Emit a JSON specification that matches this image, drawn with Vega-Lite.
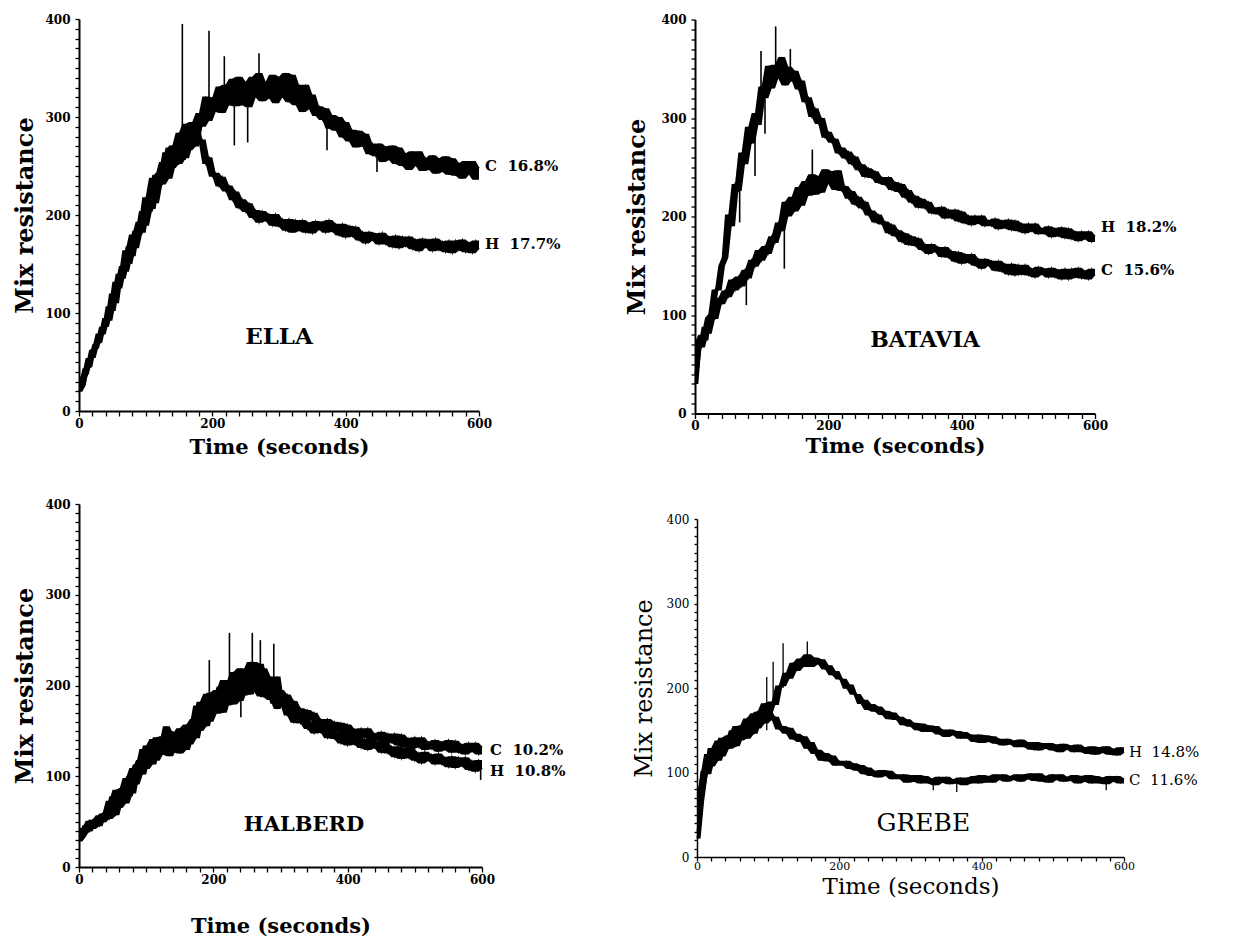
{
"$schema":"https://vega.github.io/schema/vega-lite/v6.json",
"background":"white",
"padding":{"left":13,"top":13,"right":2,"bottom":2},
"config":{"view":{"stroke":null},"font":"DejaVu Serif","axis":{"grid":false,"domainColor":"black","tickColor":"black","labelColor":"black","titleColor":"black","domainWidth":2,"tickWidth":1.3,"labelFont":"DejaVu Serif","titleFont":"DejaVu Serif","labelFlush":false}},
"datasets":{
"ella":[
{"s":"C","t":0,"v":20},{"s":"C","t":5,"v":26},{"s":"C","t":10,"v":43},{"s":"C","t":15,"v":45},{"s":"C","t":20,"v":62},{"s":"C","t":25,"v":64},{"s":"C","t":30,"v":79},{"s":"C","t":35,"v":78},{"s":"C","t":40,"v":95},{"s":"C","t":45,"v":92},
{"s":"C","t":50,"v":120},{"s":"C","t":55,"v":110},{"s":"C","t":60,"v":140},{"s":"C","t":65,"v":135},{"s":"C","t":70,"v":164},{"s":"C","t":75,"v":150},{"s":"C","t":80,"v":180},{"s":"C","t":85,"v":166},{"s":"C","t":90,"v":193},{"s":"C","t":95,"v":182},
{"s":"C","t":100,"v":218},{"s":"C","t":105,"v":203},{"s":"C","t":110,"v":238},{"s":"C","t":115,"v":212},{"s":"C","t":120,"v":243},{"s":"C","t":125,"v":231},{"s":"C","t":130,"v":264},{"s":"C","t":135,"v":237},{"s":"C","t":140,"v":271},{"s":"C","t":145,"v":251},
{"s":"C","t":150,"v":284},{"s":"C","t":155,"v":256},{"s":"C","t":160,"v":293},{"s":"C","t":165,"v":266},{"s":"C","t":170,"v":295},{"s":"C","t":175,"v":270},{"s":"C","t":180,"v":304},{"s":"C","t":185,"v":290},{"s":"C","t":190,"v":321},{"s":"C","t":195,"v":296},
{"s":"C","t":200,"v":320},{"s":"C","t":205,"v":305},{"s":"C","t":210,"v":331},{"s":"C","t":215,"v":304},{"s":"C","t":220,"v":333},{"s":"C","t":225,"v":312},{"s":"C","t":230,"v":339},{"s":"C","t":235,"v":311},{"s":"C","t":240,"v":341},{"s":"C","t":245,"v":312},
{"s":"C","t":250,"v":336},{"s":"C","t":255,"v":310},{"s":"C","t":260,"v":341},{"s":"C","t":265,"v":320},{"s":"C","t":270,"v":345},{"s":"C","t":275,"v":316},{"s":"C","t":280,"v":336},{"s":"C","t":285,"v":319},{"s":"C","t":290,"v":343},{"s":"C","t":295,"v":314},
{"s":"C","t":300,"v":341},{"s":"C","t":305,"v":320},{"s":"C","t":310,"v":345},{"s":"C","t":315,"v":315},{"s":"C","t":320,"v":343},{"s":"C","t":325,"v":312},{"s":"C","t":330,"v":333},{"s":"C","t":335,"v":305},{"s":"C","t":340,"v":333},{"s":"C","t":345,"v":308},
{"s":"C","t":350,"v":323},{"s":"C","t":355,"v":301},{"s":"C","t":360,"v":311},{"s":"C","t":365,"v":297},{"s":"C","t":370,"v":309},{"s":"C","t":375,"v":288},{"s":"C","t":380,"v":302},{"s":"C","t":385,"v":286},{"s":"C","t":390,"v":300},{"s":"C","t":395,"v":279},
{"s":"C","t":400,"v":295},{"s":"C","t":405,"v":275},{"s":"C","t":410,"v":287},{"s":"C","t":415,"v":269},{"s":"C","t":420,"v":286},{"s":"C","t":425,"v":270},{"s":"C","t":430,"v":283},{"s":"C","t":435,"v":262},{"s":"C","t":440,"v":273},{"s":"C","t":445,"v":260},
{"s":"C","t":450,"v":273},{"s":"C","t":455,"v":254},{"s":"C","t":460,"v":270},{"s":"C","t":465,"v":256},{"s":"C","t":470,"v":271},{"s":"C","t":475,"v":252},{"s":"C","t":480,"v":269},{"s":"C","t":485,"v":250},{"s":"C","t":490,"v":263},{"s":"C","t":495,"v":246},
{"s":"C","t":500,"v":265},{"s":"C","t":505,"v":250},{"s":"C","t":510,"v":265},{"s":"C","t":515,"v":245},{"s":"C","t":520,"v":258},{"s":"C","t":525,"v":246},{"s":"C","t":530,"v":261},{"s":"C","t":535,"v":242},{"s":"C","t":540,"v":258},{"s":"C","t":545,"v":244},
{"s":"C","t":550,"v":260},{"s":"C","t":555,"v":241},{"s":"C","t":560,"v":258},{"s":"C","t":565,"v":240},{"s":"C","t":570,"v":253},{"s":"C","t":575,"v":237},{"s":"C","t":580,"v":255},{"s":"C","t":585,"v":241},{"s":"C","t":590,"v":255},{"s":"C","t":595,"v":236},
{"s":"C","t":600,"v":249},
{"s":"H","t":0,"v":20},{"s":"H","t":5,"v":33},{"s":"H","t":10,"v":38},{"s":"H","t":15,"v":54},{"s":"H","t":20,"v":54},{"s":"H","t":25,"v":68},{"s":"H","t":30,"v":70},{"s":"H","t":35,"v":86},{"s":"H","t":40,"v":86},{"s":"H","t":45,"v":107},
{"s":"H","t":50,"v":102},{"s":"H","t":55,"v":132},{"s":"H","t":60,"v":125},{"s":"H","t":65,"v":148},{"s":"H","t":70,"v":142},{"s":"H","t":75,"v":168},{"s":"H","t":80,"v":158},{"s":"H","t":85,"v":184},{"s":"H","t":90,"v":180},{"s":"H","t":95,"v":204},
{"s":"H","t":100,"v":189},{"s":"H","t":105,"v":219},{"s":"H","t":110,"v":206},{"s":"H","t":115,"v":241},{"s":"H","t":120,"v":230},{"s":"H","t":125,"v":254},{"s":"H","t":130,"v":239},{"s":"H","t":135,"v":269},{"s":"H","t":140,"v":248},{"s":"H","t":145,"v":270},
{"s":"H","t":150,"v":252},{"s":"H","t":155,"v":281},{"s":"H","t":160,"v":258},{"s":"H","t":165,"v":286},{"s":"H","t":170,"v":270},{"s":"H","t":175,"v":294},{"s":"H","t":180,"v":273},{"s":"H","t":185,"v":277},{"s":"H","t":190,"v":252},{"s":"H","t":195,"v":259},
{"s":"H","t":200,"v":239},{"s":"H","t":205,"v":243},{"s":"H","t":210,"v":229},{"s":"H","t":215,"v":239},{"s":"H","t":220,"v":224},{"s":"H","t":225,"v":230},{"s":"H","t":230,"v":215},{"s":"H","t":235,"v":224},{"s":"H","t":240,"v":207},{"s":"H","t":245,"v":216},
{"s":"H","t":250,"v":203},{"s":"H","t":255,"v":212},{"s":"H","t":260,"v":197},{"s":"H","t":265,"v":205},{"s":"H","t":270,"v":192},{"s":"H","t":275,"v":204},{"s":"H","t":280,"v":194},{"s":"H","t":285,"v":201},{"s":"H","t":290,"v":189},{"s":"H","t":295,"v":201},
{"s":"H","t":300,"v":188},{"s":"H","t":305,"v":196},{"s":"H","t":310,"v":184},{"s":"H","t":315,"v":196},{"s":"H","t":320,"v":182},{"s":"H","t":325,"v":195},{"s":"H","t":330,"v":184},{"s":"H","t":335,"v":195},{"s":"H","t":340,"v":182},{"s":"H","t":345,"v":192},
{"s":"H","t":350,"v":181},{"s":"H","t":355,"v":194},{"s":"H","t":360,"v":185},{"s":"H","t":365,"v":193},{"s":"H","t":370,"v":182},{"s":"H","t":375,"v":195},{"s":"H","t":380,"v":183},{"s":"H","t":385,"v":191},{"s":"H","t":390,"v":179},{"s":"H","t":395,"v":191},
{"s":"H","t":400,"v":177},{"s":"H","t":405,"v":189},{"s":"H","t":410,"v":178},{"s":"H","t":415,"v":188},{"s":"H","t":420,"v":174},{"s":"H","t":425,"v":183},{"s":"H","t":430,"v":171},{"s":"H","t":435,"v":183},{"s":"H","t":440,"v":174},{"s":"H","t":445,"v":181},
{"s":"H","t":450,"v":170},{"s":"H","t":455,"v":182},{"s":"H","t":460,"v":170},{"s":"H","t":465,"v":178},{"s":"H","t":470,"v":167},{"s":"H","t":475,"v":179},{"s":"H","t":480,"v":166},{"s":"H","t":485,"v":178},{"s":"H","t":490,"v":168},{"s":"H","t":495,"v":178},
{"s":"H","t":500,"v":165},{"s":"H","t":505,"v":175},{"s":"H","t":510,"v":163},{"s":"H","t":515,"v":176},{"s":"H","t":520,"v":167},{"s":"H","t":525,"v":175},{"s":"H","t":530,"v":163},{"s":"H","t":535,"v":176},{"s":"H","t":540,"v":164},{"s":"H","t":545,"v":173},
{"s":"H","t":550,"v":162},{"s":"H","t":555,"v":174},{"s":"H","t":560,"v":161},{"s":"H","t":565,"v":174},{"s":"H","t":570,"v":164},{"s":"H","t":575,"v":175},{"s":"H","t":580,"v":162},{"s":"H","t":585,"v":172},{"s":"H","t":590,"v":161},{"s":"H","t":595,"v":174},
{"s":"H","t":600,"v":165}
],
"batavia":[
{"s":"H","t":0,"v":30},{"s":"H","t":5,"v":72},{"s":"H","t":10,"v":80},{"s":"H","t":15,"v":74},{"s":"H","t":20,"v":97},{"s":"H","t":25,"v":101},{"s":"H","t":30,"v":126},{"s":"H","t":35,"v":125},{"s":"H","t":40,"v":150},{"s":"H","t":45,"v":158},
{"s":"H","t":50,"v":202},{"s":"H","t":55,"v":190},{"s":"H","t":60,"v":233},{"s":"H","t":65,"v":226},{"s":"H","t":70,"v":265},{"s":"H","t":75,"v":253},{"s":"H","t":80,"v":291},{"s":"H","t":85,"v":274},{"s":"H","t":90,"v":305},{"s":"H","t":95,"v":293},
{"s":"H","t":100,"v":332},{"s":"H","t":105,"v":320},{"s":"H","t":110,"v":353},{"s":"H","t":115,"v":330},{"s":"H","t":120,"v":354},{"s":"H","t":125,"v":340},{"s":"H","t":130,"v":362},{"s":"H","t":135,"v":333},{"s":"H","t":140,"v":352},{"s":"H","t":145,"v":338},
{"s":"H","t":150,"v":348},{"s":"H","t":155,"v":329},{"s":"H","t":160,"v":338},{"s":"H","t":165,"v":316},{"s":"H","t":170,"v":321},{"s":"H","t":175,"v":301},{"s":"H","t":180,"v":310},{"s":"H","t":185,"v":294},{"s":"H","t":190,"v":300},{"s":"H","t":195,"v":280},
{"s":"H","t":200,"v":286},{"s":"H","t":205,"v":275},{"s":"H","t":210,"v":279},{"s":"H","t":215,"v":264},{"s":"H","t":220,"v":270},{"s":"H","t":225,"v":259},{"s":"H","t":230,"v":266},{"s":"H","t":235,"v":253},{"s":"H","t":240,"v":261},{"s":"H","t":245,"v":247},
{"s":"H","t":250,"v":253},{"s":"H","t":255,"v":240},{"s":"H","t":260,"v":249},{"s":"H","t":265,"v":239},{"s":"H","t":270,"v":246},{"s":"H","t":275,"v":234},{"s":"H","t":280,"v":240},{"s":"H","t":285,"v":232},{"s":"H","t":290,"v":240},{"s":"H","t":295,"v":227},
{"s":"H","t":300,"v":235},{"s":"H","t":305,"v":225},{"s":"H","t":310,"v":233},{"s":"H","t":315,"v":219},{"s":"H","t":320,"v":227},{"s":"H","t":325,"v":214},{"s":"H","t":330,"v":221},{"s":"H","t":335,"v":209},{"s":"H","t":340,"v":218},{"s":"H","t":345,"v":208},
{"s":"H","t":350,"v":215},{"s":"H","t":355,"v":203},{"s":"H","t":360,"v":209},{"s":"H","t":365,"v":202},{"s":"H","t":370,"v":210},{"s":"H","t":375,"v":198},{"s":"H","t":380,"v":207},{"s":"H","t":385,"v":198},{"s":"H","t":390,"v":207},{"s":"H","t":395,"v":195},
{"s":"H","t":400,"v":205},{"s":"H","t":405,"v":193},{"s":"H","t":410,"v":201},{"s":"H","t":415,"v":191},{"s":"H","t":420,"v":201},{"s":"H","t":425,"v":193},{"s":"H","t":430,"v":201},{"s":"H","t":435,"v":190},{"s":"H","t":440,"v":196},{"s":"H","t":445,"v":190},
{"s":"H","t":450,"v":198},{"s":"H","t":455,"v":187},{"s":"H","t":460,"v":196},{"s":"H","t":465,"v":188},{"s":"H","t":470,"v":197},{"s":"H","t":475,"v":186},{"s":"H","t":480,"v":196},{"s":"H","t":485,"v":185},{"s":"H","t":490,"v":193},{"s":"H","t":495,"v":183},
{"s":"H","t":500,"v":193},{"s":"H","t":505,"v":185},{"s":"H","t":510,"v":193},{"s":"H","t":515,"v":182},{"s":"H","t":520,"v":188},{"s":"H","t":525,"v":182},{"s":"H","t":530,"v":190},{"s":"H","t":535,"v":179},{"s":"H","t":540,"v":188},{"s":"H","t":545,"v":180},
{"s":"H","t":550,"v":189},{"s":"H","t":555,"v":178},{"s":"H","t":560,"v":188},{"s":"H","t":565,"v":177},{"s":"H","t":570,"v":185},{"s":"H","t":575,"v":175},{"s":"H","t":580,"v":185},{"s":"H","t":585,"v":177},{"s":"H","t":590,"v":185},{"s":"H","t":595,"v":174},
{"s":"H","t":600,"v":181},
{"s":"C","t":0,"v":40},{"s":"C","t":5,"v":68},{"s":"C","t":10,"v":67},{"s":"C","t":15,"v":88},{"s":"C","t":20,"v":81},{"s":"C","t":25,"v":100},{"s":"C","t":30,"v":96},{"s":"C","t":35,"v":117},{"s":"C","t":40,"v":111},{"s":"C","t":45,"v":125},
{"s":"C","t":50,"v":118},{"s":"C","t":55,"v":136},{"s":"C","t":60,"v":125},{"s":"C","t":65,"v":139},{"s":"C","t":70,"v":129},{"s":"C","t":75,"v":146},{"s":"C","t":80,"v":137},{"s":"C","t":85,"v":156},{"s":"C","t":90,"v":149},{"s":"C","t":95,"v":166},
{"s":"C","t":100,"v":155},{"s":"C","t":105,"v":170},{"s":"C","t":110,"v":162},{"s":"C","t":115,"v":180},{"s":"C","t":120,"v":173},{"s":"C","t":125,"v":194},{"s":"C","t":130,"v":185},{"s":"C","t":135,"v":215},{"s":"C","t":140,"v":200},{"s":"C","t":145,"v":220},
{"s":"C","t":150,"v":205},{"s":"C","t":155,"v":230},{"s":"C","t":160,"v":211},{"s":"C","t":165,"v":236},{"s":"C","t":170,"v":221},{"s":"C","t":175,"v":243},{"s":"C","t":180,"v":222},{"s":"C","t":185,"v":241},{"s":"C","t":190,"v":224},{"s":"C","t":195,"v":248},
{"s":"C","t":200,"v":233},{"s":"C","t":205,"v":246},{"s":"C","t":210,"v":227},{"s":"C","t":215,"v":247},{"s":"C","t":220,"v":226},{"s":"C","t":225,"v":231},{"s":"C","t":230,"v":218},{"s":"C","t":235,"v":226},{"s":"C","t":240,"v":212},{"s":"C","t":245,"v":220},
{"s":"C","t":250,"v":208},{"s":"C","t":255,"v":215},{"s":"C","t":260,"v":201},{"s":"C","t":265,"v":206},{"s":"C","t":270,"v":194},{"s":"C","t":275,"v":202},{"s":"C","t":280,"v":192},{"s":"C","t":285,"v":195},{"s":"C","t":290,"v":183},{"s":"C","t":295,"v":192},
{"s":"C","t":300,"v":180},{"s":"C","t":305,"v":186},{"s":"C","t":310,"v":174},{"s":"C","t":315,"v":183},{"s":"C","t":320,"v":171},{"s":"C","t":325,"v":180},{"s":"C","t":330,"v":170},{"s":"C","t":335,"v":178},{"s":"C","t":340,"v":166},{"s":"C","t":345,"v":172},
{"s":"C","t":350,"v":162},{"s":"C","t":355,"v":172},{"s":"C","t":360,"v":164},{"s":"C","t":365,"v":169},{"s":"C","t":370,"v":159},{"s":"C","t":375,"v":169},{"s":"C","t":380,"v":158},{"s":"C","t":385,"v":165},{"s":"C","t":390,"v":154},{"s":"C","t":395,"v":164},
{"s":"C","t":400,"v":152},{"s":"C","t":405,"v":162},{"s":"C","t":410,"v":153},{"s":"C","t":415,"v":162},{"s":"C","t":420,"v":150},{"s":"C","t":425,"v":157},{"s":"C","t":430,"v":147},{"s":"C","t":435,"v":157},{"s":"C","t":440,"v":150},{"s":"C","t":445,"v":155},
{"s":"C","t":450,"v":145},{"s":"C","t":455,"v":155},{"s":"C","t":460,"v":144},{"s":"C","t":465,"v":152},{"s":"C","t":470,"v":141},{"s":"C","t":475,"v":152},{"s":"C","t":480,"v":140},{"s":"C","t":485,"v":151},{"s":"C","t":490,"v":141},{"s":"C","t":495,"v":151},
{"s":"C","t":500,"v":140},{"s":"C","t":505,"v":147},{"s":"C","t":510,"v":138},{"s":"C","t":515,"v":149},{"s":"C","t":520,"v":141},{"s":"C","t":525,"v":147},{"s":"C","t":530,"v":138},{"s":"C","t":535,"v":148},{"s":"C","t":540,"v":138},{"s":"C","t":545,"v":146},
{"s":"C","t":550,"v":136},{"s":"C","t":555,"v":147},{"s":"C","t":560,"v":136},{"s":"C","t":565,"v":147},{"s":"C","t":570,"v":138},{"s":"C","t":575,"v":148},{"s":"C","t":580,"v":137},{"s":"C","t":585,"v":145},{"s":"C","t":590,"v":136},{"s":"C","t":595,"v":147},
{"s":"C","t":600,"v":140}
],
"halberd":[
{"s":"C","t":0,"v":28},{"s":"C","t":5,"v":33},{"s":"C","t":10,"v":46},{"s":"C","t":15,"v":39},{"s":"C","t":20,"v":52},{"s":"C","t":25,"v":46},{"s":"C","t":30,"v":57},{"s":"C","t":35,"v":49},{"s":"C","t":40,"v":60},{"s":"C","t":45,"v":53},
{"s":"C","t":50,"v":78},{"s":"C","t":55,"v":57},{"s":"C","t":60,"v":85},{"s":"C","t":65,"v":71},{"s":"C","t":70,"v":98},{"s":"C","t":75,"v":78},{"s":"C","t":80,"v":109},{"s":"C","t":85,"v":91},{"s":"C","t":90,"v":118},{"s":"C","t":95,"v":102},
{"s":"C","t":100,"v":134},{"s":"C","t":105,"v":117},{"s":"C","t":110,"v":141},{"s":"C","t":115,"v":117},{"s":"C","t":120,"v":138},{"s":"C","t":125,"v":124},{"s":"C","t":130,"v":155},{"s":"C","t":135,"v":122},{"s":"C","t":140,"v":147},{"s":"C","t":145,"v":130},
{"s":"C","t":150,"v":153},{"s":"C","t":155,"v":130},{"s":"C","t":160,"v":157},{"s":"C","t":165,"v":135},{"s":"C","t":170,"v":163},{"s":"C","t":175,"v":142},{"s":"C","t":180,"v":182},{"s":"C","t":185,"v":161},{"s":"C","t":190,"v":191},{"s":"C","t":195,"v":160},
{"s":"C","t":200,"v":186},{"s":"C","t":205,"v":169},{"s":"C","t":210,"v":199},{"s":"C","t":215,"v":170},{"s":"C","t":220,"v":204},{"s":"C","t":225,"v":183},{"s":"C","t":230,"v":215},{"s":"C","t":235,"v":185},{"s":"C","t":240,"v":219},{"s":"C","t":245,"v":189},
{"s":"C","t":250,"v":216},{"s":"C","t":255,"v":190},{"s":"C","t":260,"v":226},{"s":"C","t":265,"v":200},{"s":"C","t":270,"v":224},{"s":"C","t":275,"v":187},{"s":"C","t":280,"v":207},{"s":"C","t":285,"v":184},{"s":"C","t":290,"v":208},{"s":"C","t":295,"v":174},
{"s":"C","t":300,"v":195},{"s":"C","t":305,"v":182},{"s":"C","t":310,"v":190},{"s":"C","t":315,"v":173},{"s":"C","t":320,"v":183},{"s":"C","t":325,"v":168},{"s":"C","t":330,"v":175},{"s":"C","t":335,"v":162},{"s":"C","t":340,"v":173},{"s":"C","t":345,"v":162},
{"s":"C","t":350,"v":170},{"s":"C","t":355,"v":155},{"s":"C","t":360,"v":163},{"s":"C","t":365,"v":153},{"s":"C","t":370,"v":163},{"s":"C","t":375,"v":149},{"s":"C","t":380,"v":160},{"s":"C","t":385,"v":149},{"s":"C","t":390,"v":159},{"s":"C","t":395,"v":145},
{"s":"C","t":400,"v":157},{"s":"C","t":405,"v":143},{"s":"C","t":410,"v":152},{"s":"C","t":415,"v":141},{"s":"C","t":420,"v":153},{"s":"C","t":425,"v":143},{"s":"C","t":430,"v":153},{"s":"C","t":435,"v":139},{"s":"C","t":440,"v":147},{"s":"C","t":445,"v":139},
{"s":"C","t":450,"v":149},{"s":"C","t":455,"v":135},{"s":"C","t":460,"v":147},{"s":"C","t":465,"v":137},{"s":"C","t":470,"v":147},{"s":"C","t":475,"v":134},{"s":"C","t":480,"v":146},{"s":"C","t":485,"v":132},{"s":"C","t":490,"v":142},{"s":"C","t":495,"v":130},
{"s":"C","t":500,"v":143},{"s":"C","t":505,"v":132},{"s":"C","t":510,"v":143},{"s":"C","t":515,"v":129},{"s":"C","t":520,"v":138},{"s":"C","t":525,"v":130},{"s":"C","t":530,"v":140},{"s":"C","t":535,"v":127},{"s":"C","t":540,"v":138},{"s":"C","t":545,"v":129},
{"s":"C","t":550,"v":140},{"s":"C","t":555,"v":126},{"s":"C","t":560,"v":139},{"s":"C","t":565,"v":126},{"s":"C","t":570,"v":135},{"s":"C","t":575,"v":124},{"s":"C","t":580,"v":137},{"s":"C","t":585,"v":127},{"s":"C","t":590,"v":137},{"s":"C","t":595,"v":124},
{"s":"C","t":600,"v":133},
{"s":"H","t":0,"v":34},{"s":"H","t":5,"v":43},{"s":"H","t":10,"v":38},{"s":"H","t":15,"v":51},{"s":"H","t":20,"v":42},{"s":"H","t":25,"v":52},{"s":"H","t":30,"v":45},{"s":"H","t":35,"v":59},{"s":"H","t":40,"v":56},{"s":"H","t":45,"v":73},
{"s":"H","t":50,"v":56},{"s":"H","t":55,"v":85},{"s":"H","t":60,"v":65},{"s":"H","t":65,"v":87},{"s":"H","t":70,"v":70},{"s":"H","t":75,"v":100},{"s":"H","t":80,"v":81},{"s":"H","t":85,"v":113},{"s":"H","t":90,"v":102},{"s":"H","t":95,"v":130},
{"s":"H","t":100,"v":108},{"s":"H","t":105,"v":131},{"s":"H","t":110,"v":113},{"s":"H","t":115,"v":143},{"s":"H","t":120,"v":126},{"s":"H","t":125,"v":144},{"s":"H","t":130,"v":124},{"s":"H","t":135,"v":150},{"s":"H","t":140,"v":127},{"s":"H","t":145,"v":146},
{"s":"H","t":150,"v":125},{"s":"H","t":155,"v":152},{"s":"H","t":160,"v":129},{"s":"H","t":165,"v":157},{"s":"H","t":170,"v":141},{"s":"H","t":175,"v":178},{"s":"H","t":180,"v":150},{"s":"H","t":185,"v":179},{"s":"H","t":190,"v":155},{"s":"H","t":195,"v":192},
{"s":"H","t":200,"v":172},{"s":"H","t":205,"v":195},{"s":"H","t":210,"v":171},{"s":"H","t":215,"v":206},{"s":"H","t":220,"v":178},{"s":"H","t":225,"v":205},{"s":"H","t":230,"v":179},{"s":"H","t":235,"v":213},{"s":"H","t":240,"v":183},{"s":"H","t":245,"v":217},
{"s":"H","t":250,"v":194},{"s":"H","t":255,"v":226},{"s":"H","t":260,"v":194},{"s":"H","t":265,"v":218},{"s":"H","t":270,"v":188},{"s":"H","t":275,"v":219},{"s":"H","t":280,"v":193},{"s":"H","t":285,"v":210},{"s":"H","t":290,"v":180},{"s":"H","t":295,"v":210},
{"s":"H","t":300,"v":179},{"s":"H","t":305,"v":183},{"s":"H","t":310,"v":167},{"s":"H","t":315,"v":176},{"s":"H","t":320,"v":159},{"s":"H","t":325,"v":170},{"s":"H","t":330,"v":158},{"s":"H","t":335,"v":167},{"s":"H","t":340,"v":152},{"s":"H","t":345,"v":160},
{"s":"H","t":350,"v":147},{"s":"H","t":355,"v":159},{"s":"H","t":360,"v":148},{"s":"H","t":365,"v":155},{"s":"H","t":370,"v":142},{"s":"H","t":375,"v":154},{"s":"H","t":380,"v":141},{"s":"H","t":385,"v":148},{"s":"H","t":390,"v":136},{"s":"H","t":395,"v":148},
{"s":"H","t":400,"v":134},{"s":"H","t":405,"v":146},{"s":"H","t":410,"v":135},{"s":"H","t":415,"v":145},{"s":"H","t":420,"v":131},{"s":"H","t":425,"v":141},{"s":"H","t":430,"v":129},{"s":"H","t":435,"v":141},{"s":"H","t":440,"v":131},{"s":"H","t":445,"v":138},
{"s":"H","t":450,"v":126},{"s":"H","t":455,"v":138},{"s":"H","t":460,"v":125},{"s":"H","t":465,"v":133},{"s":"H","t":470,"v":121},{"s":"H","t":475,"v":133},{"s":"H","t":480,"v":119},{"s":"H","t":485,"v":131},{"s":"H","t":490,"v":120},{"s":"H","t":495,"v":130},
{"s":"H","t":500,"v":117},{"s":"H","t":505,"v":126},{"s":"H","t":510,"v":114},{"s":"H","t":515,"v":127},{"s":"H","t":520,"v":117},{"s":"H","t":525,"v":124},{"s":"H","t":530,"v":113},{"s":"H","t":535,"v":125},{"s":"H","t":540,"v":113},{"s":"H","t":545,"v":121},
{"s":"H","t":550,"v":110},{"s":"H","t":555,"v":122},{"s":"H","t":560,"v":109},{"s":"H","t":565,"v":121},{"s":"H","t":570,"v":111},{"s":"H","t":575,"v":121},{"s":"H","t":580,"v":107},{"s":"H","t":585,"v":117},{"s":"H","t":590,"v":105},{"s":"H","t":595,"v":118},
{"s":"H","t":600,"v":108}
],
"grebe":[
{"s":"C","t":0,"v":22},{"s":"C","t":5,"v":66},{"s":"C","t":10,"v":102},{"s":"C","t":15,"v":98},{"s":"C","t":20,"v":129},{"s":"C","t":25,"v":116},{"s":"C","t":30,"v":138},{"s":"C","t":35,"v":119},{"s":"C","t":40,"v":138},{"s":"C","t":45,"v":128},
{"s":"C","t":50,"v":150},{"s":"C","t":55,"v":131},{"s":"C","t":60,"v":154},{"s":"C","t":65,"v":142},{"s":"C","t":70,"v":164},{"s":"C","t":75,"v":145},{"s":"C","t":80,"v":170},{"s":"C","t":85,"v":152},{"s":"C","t":90,"v":173},{"s":"C","t":95,"v":158},
{"s":"C","t":100,"v":173},{"s":"C","t":105,"v":162},{"s":"C","t":110,"v":166},{"s":"C","t":115,"v":151},{"s":"C","t":120,"v":155},{"s":"C","t":125,"v":146},{"s":"C","t":130,"v":153},{"s":"C","t":135,"v":139},{"s":"C","t":140,"v":146},{"s":"C","t":145,"v":136},
{"s":"C","t":150,"v":143},{"s":"C","t":155,"v":128},{"s":"C","t":160,"v":136},{"s":"C","t":165,"v":122},{"s":"C","t":170,"v":127},{"s":"C","t":175,"v":114},{"s":"C","t":180,"v":123},{"s":"C","t":185,"v":113},{"s":"C","t":190,"v":120},{"s":"C","t":195,"v":108},
{"s":"C","t":200,"v":114},{"s":"C","t":205,"v":108},{"s":"C","t":210,"v":114},{"s":"C","t":215,"v":104},{"s":"C","t":220,"v":111},{"s":"C","t":225,"v":102},{"s":"C","t":230,"v":109},{"s":"C","t":235,"v":98},{"s":"C","t":240,"v":106},{"s":"C","t":245,"v":96},
{"s":"C","t":250,"v":102},{"s":"C","t":255,"v":94},{"s":"C","t":260,"v":103},{"s":"C","t":265,"v":96},{"s":"C","t":270,"v":102},{"s":"C","t":275,"v":92},{"s":"C","t":280,"v":98},{"s":"C","t":285,"v":92},{"s":"C","t":290,"v":98},{"s":"C","t":295,"v":88},
{"s":"C","t":300,"v":97},{"s":"C","t":305,"v":89},{"s":"C","t":310,"v":97},{"s":"C","t":315,"v":87},{"s":"C","t":320,"v":96},{"s":"C","t":325,"v":87},{"s":"C","t":330,"v":93},{"s":"C","t":335,"v":85},{"s":"C","t":340,"v":95},{"s":"C","t":345,"v":88},
{"s":"C","t":350,"v":95},{"s":"C","t":355,"v":86},{"s":"C","t":360,"v":92},{"s":"C","t":365,"v":87},{"s":"C","t":370,"v":94},{"s":"C","t":375,"v":85},{"s":"C","t":380,"v":94},{"s":"C","t":385,"v":87},{"s":"C","t":390,"v":96},{"s":"C","t":395,"v":87},
{"s":"C","t":400,"v":97},{"s":"C","t":405,"v":88},{"s":"C","t":410,"v":96},{"s":"C","t":415,"v":88},{"s":"C","t":420,"v":98},{"s":"C","t":425,"v":91},{"s":"C","t":430,"v":98},{"s":"C","t":435,"v":89},{"s":"C","t":440,"v":96},{"s":"C","t":445,"v":91},
{"s":"C","t":450,"v":98},{"s":"C","t":455,"v":89},{"s":"C","t":460,"v":98},{"s":"C","t":465,"v":92},{"s":"C","t":470,"v":99},{"s":"C","t":475,"v":90},{"s":"C","t":480,"v":99},{"s":"C","t":485,"v":89},{"s":"C","t":490,"v":96},{"s":"C","t":495,"v":88},
{"s":"C","t":500,"v":98},{"s":"C","t":505,"v":91},{"s":"C","t":510,"v":98},{"s":"C","t":515,"v":89},{"s":"C","t":520,"v":95},{"s":"C","t":525,"v":90},{"s":"C","t":530,"v":97},{"s":"C","t":535,"v":87},{"s":"C","t":540,"v":96},{"s":"C","t":545,"v":89},
{"s":"C","t":550,"v":97},{"s":"C","t":555,"v":87},{"s":"C","t":560,"v":96},{"s":"C","t":565,"v":87},{"s":"C","t":570,"v":94},{"s":"C","t":575,"v":86},{"s":"C","t":580,"v":96},{"s":"C","t":585,"v":89},{"s":"C","t":590,"v":96},{"s":"C","t":595,"v":87},
{"s":"C","t":600,"v":93},
{"s":"H","t":0,"v":30},{"s":"H","t":5,"v":74},{"s":"H","t":10,"v":97},{"s":"H","t":15,"v":122},{"s":"H","t":20,"v":107},{"s":"H","t":25,"v":128},{"s":"H","t":30,"v":114},{"s":"H","t":35,"v":141},{"s":"H","t":40,"v":128},{"s":"H","t":45,"v":144},
{"s":"H","t":50,"v":130},{"s":"H","t":55,"v":155},{"s":"H","t":60,"v":138},{"s":"H","t":65,"v":156},{"s":"H","t":70,"v":140},{"s":"H","t":75,"v":165},{"s":"H","t":80,"v":146},{"s":"H","t":85,"v":172},{"s":"H","t":90,"v":159},{"s":"H","t":95,"v":182},
{"s":"H","t":100,"v":167},{"s":"H","t":105,"v":184},{"s":"H","t":110,"v":180},{"s":"H","t":115,"v":203},{"s":"H","t":120,"v":202},{"s":"H","t":125,"v":218},{"s":"H","t":130,"v":211},{"s":"H","t":135,"v":230},{"s":"H","t":140,"v":220},{"s":"H","t":145,"v":235},
{"s":"H","t":150,"v":225},{"s":"H","t":155,"v":240},{"s":"H","t":160,"v":225},{"s":"H","t":165,"v":236},{"s":"H","t":170,"v":228},{"s":"H","t":175,"v":234},{"s":"H","t":180,"v":222},{"s":"H","t":185,"v":227},{"s":"H","t":190,"v":215},{"s":"H","t":195,"v":220},
{"s":"H","t":200,"v":210},{"s":"H","t":205,"v":211},{"s":"H","t":210,"v":199},{"s":"H","t":215,"v":204},{"s":"H","t":220,"v":192},{"s":"H","t":225,"v":193},{"s":"H","t":230,"v":181},{"s":"H","t":235,"v":186},{"s":"H","t":240,"v":174},{"s":"H","t":245,"v":181},
{"s":"H","t":250,"v":172},{"s":"H","t":255,"v":178},{"s":"H","t":260,"v":168},{"s":"H","t":265,"v":173},{"s":"H","t":270,"v":163},{"s":"H","t":275,"v":171},{"s":"H","t":280,"v":162},{"s":"H","t":285,"v":166},{"s":"H","t":290,"v":156},{"s":"H","t":295,"v":163},
{"s":"H","t":300,"v":154},{"s":"H","t":305,"v":159},{"s":"H","t":310,"v":150},{"s":"H","t":315,"v":158},{"s":"H","t":320,"v":148},{"s":"H","t":325,"v":156},{"s":"H","t":330,"v":148},{"s":"H","t":335,"v":155},{"s":"H","t":340,"v":145},{"s":"H","t":345,"v":151},
{"s":"H","t":350,"v":142},{"s":"H","t":355,"v":151},{"s":"H","t":360,"v":144},{"s":"H","t":365,"v":149},{"s":"H","t":370,"v":140},{"s":"H","t":375,"v":148},{"s":"H","t":380,"v":140},{"s":"H","t":385,"v":145},{"s":"H","t":390,"v":136},{"s":"H","t":395,"v":145},
{"s":"H","t":400,"v":135},{"s":"H","t":405,"v":144},{"s":"H","t":410,"v":136},{"s":"H","t":415,"v":143},{"s":"H","t":420,"v":134},{"s":"H","t":425,"v":140},{"s":"H","t":430,"v":132},{"s":"H","t":435,"v":140},{"s":"H","t":440,"v":133},{"s":"H","t":445,"v":138},
{"s":"H","t":450,"v":130},{"s":"H","t":455,"v":139},{"s":"H","t":460,"v":130},{"s":"H","t":465,"v":136},{"s":"H","t":470,"v":127},{"s":"H","t":475,"v":136},{"s":"H","t":480,"v":126},{"s":"H","t":485,"v":135},{"s":"H","t":490,"v":128},{"s":"H","t":495,"v":135},
{"s":"H","t":500,"v":126},{"s":"H","t":505,"v":133},{"s":"H","t":510,"v":124},{"s":"H","t":515,"v":134},{"s":"H","t":520,"v":127},{"s":"H","t":525,"v":132},{"s":"H","t":530,"v":124},{"s":"H","t":535,"v":133},{"s":"H","t":540,"v":124},{"s":"H","t":545,"v":130},
{"s":"H","t":550,"v":122},{"s":"H","t":555,"v":131},{"s":"H","t":560,"v":121},{"s":"H","t":565,"v":130},{"s":"H","t":570,"v":123},{"s":"H","t":575,"v":131},{"s":"H","t":580,"v":121},{"s":"H","t":585,"v":128},{"s":"H","t":590,"v":120},{"s":"H","t":595,"v":130},
{"s":"H","t":600,"v":123}
]
},
"vconcat":[
{"hconcat":[
{"width":400,"height":392,"resolve":{"axis":{"x":"independent","y":"independent"}},"layer":[
{"data":{"name":"ella"},"transform":[{"window":[{"op":"min","field":"v","as":"lo"},{"op":"max","field":"v","as":"hi"}],"frame":[-1,1],"groupby":["s"],"sort":[{"field":"t"}]}],
"mark":{"type":"area","color":"black","opacity":1},
"encoding":{
"x":{"field":"t","type":"quantitative","scale":{"domain":[0,600],"nice":false},"axis":{"orient":"bottom","values":[0,20,40,60,80,100,120,140,160,180,200,220,240,260,280,300,320,340,360,380,400,420,440,460,480,500,520,540,560,580,600],"labels":false,"tickSize":5,"title":null}},
"y":{"field":"hi","type":"quantitative","scale":{"domain":[0,400],"nice":false},"axis":{"orient":"left","values":[0,10,20,30,40,50,60,70,80,90,100,110,120,130,140,150,160,170,180,190,200,210,220,230,240,250,260,270,280,290,300,310,320,330,340,350,360,370,380,390,400],"labels":false,"tickSize":4,"title":null}},
"y2":{"field":"lo"},
"detail":{"field":"s"}}},
{"data":{"name":"ella"},"mark":{"type":"line","color":"black","strokeWidth":1.1},
"encoding":{
"x":{"field":"t","type":"quantitative","axis":{"orient":"bottom","values":[0,200,400,600],"ticks":false,"tickSize":0,"domain":false,"labelFontSize":12,"labelFontWeight":"bold","labelPadding":7,"title":"Time (seconds)","titleFontSize":21,"titleFontWeight":"bold","titlePadding":7}},
"y":{"field":"v","type":"quantitative","axis":{"orient":"left","values":[0,100,200,300,400],"ticks":false,"tickSize":0,"domain":false,"labelFontSize":12,"labelFontWeight":"bold","labelPadding":9,"title":"Mix resistance","titleFontSize":24,"titleFontWeight":"bold","titlePadding":7}},
"detail":{"field":"s"}}},
{"data":{"values":[{"t":155,"lo":268,"hi":395},{"t":195,"lo":300,"hi":388},{"t":218,"lo":320,"hi":362},{"t":270,"lo":330,"hi":365},{"t":233,"lo":271,"hi":312},{"t":253,"lo":274,"hi":312},{"t":372,"lo":266,"hi":292},{"t":447,"lo":244,"hi":262}]},
"mark":{"type":"rule","color":"black","strokeWidth":1.6},
"encoding":{"x":{"field":"t","type":"quantitative","axis":null},"y":{"field":"lo","type":"quantitative","axis":null},"y2":{"field":"hi"}}},
{"data":{"values":[{"t":600,"v":250,"label":"C\u00a0\u00a016.8%"},{"t":600,"v":170,"label":"H\u00a0\u00a017.7%"}]},"mark":{"type":"text","align":"left","baseline":"middle","dx":6,"fontSize":15,"fontWeight":"bold"},
"encoding":{"x":{"field":"t","type":"quantitative","axis":null},"y":{"field":"v","type":"quantitative","axis":null},"text":{"field":"label"}}},
{"data":{"values":[{"t":300,"v":76,"name":"ELLA"}]},"mark":{"type":"text","align":"center","baseline":"middle","fontSize":23,"fontWeight":"bold"},
"encoding":{"x":{"field":"t","type":"quantitative","axis":null},"y":{"field":"v","type":"quantitative","axis":null},"text":{"field":"name"}}}
]},
{"width":400,"height":394,"resolve":{"axis":{"x":"independent","y":"independent"}},"layer":[
{"data":{"name":"batavia"},"transform":[{"window":[{"op":"min","field":"v","as":"lo"},{"op":"max","field":"v","as":"hi"}],"frame":[-1,1],"groupby":["s"],"sort":[{"field":"t"}]}],
"mark":{"type":"area","color":"black","opacity":1},
"encoding":{
"x":{"field":"t","type":"quantitative","scale":{"domain":[0,600],"nice":false},"axis":{"orient":"bottom","values":[0,20,40,60,80,100,120,140,160,180,200,220,240,260,280,300,320,340,360,380,400,420,440,460,480,500,520,540,560,580,600],"labels":false,"tickSize":5,"title":null}},
"y":{"field":"hi","type":"quantitative","scale":{"domain":[0,400],"nice":false},"axis":{"orient":"left","values":[0,10,20,30,40,50,60,70,80,90,100,110,120,130,140,150,160,170,180,190,200,210,220,230,240,250,260,270,280,290,300,310,320,330,340,350,360,370,380,390,400],"labels":false,"tickSize":4,"title":null}},
"y2":{"field":"lo"},
"detail":{"field":"s"}}},
{"data":{"name":"batavia"},"mark":{"type":"line","color":"black","strokeWidth":1.1},
"encoding":{
"x":{"field":"t","type":"quantitative","axis":{"orient":"bottom","values":[0,200,400,600],"ticks":false,"tickSize":0,"domain":false,"labelFontSize":12,"labelFontWeight":"bold","labelPadding":7,"title":"Time (seconds)","titleFontSize":21,"titleFontWeight":"bold","titlePadding":4}},
"y":{"field":"v","type":"quantitative","axis":{"orient":"left","values":[0,100,200,300,400],"ticks":false,"tickSize":0,"domain":false,"labelFontSize":12,"labelFontWeight":"bold","labelPadding":9,"title":"Mix resistance","titleFontSize":24,"titleFontWeight":"bold","titlePadding":11}},
"detail":{"field":"s"}}},
{"data":{"values":[{"t":67,"lo":194,"hi":228},{"t":90,"lo":241,"hi":296},{"t":99,"lo":316,"hi":368},{"t":105,"lo":284,"hi":320},{"t":121,"lo":348,"hi":393},{"t":143,"lo":340,"hi":370},{"t":77,"lo":110,"hi":140},{"t":134,"lo":147,"hi":200},{"t":176,"lo":231,"hi":268}]},
"mark":{"type":"rule","color":"black","strokeWidth":1.6},
"encoding":{"x":{"field":"t","type":"quantitative","axis":null},"y":{"field":"lo","type":"quantitative","axis":null},"y2":{"field":"hi"}}},
{"data":{"values":[{"t":600,"v":189,"label":"H\u00a0\u00a018.2%"},{"t":600,"v":146,"label":"C\u00a0\u00a015.6%"}]},"mark":{"type":"text","align":"left","baseline":"middle","dx":6,"fontSize":15,"fontWeight":"bold"},
"encoding":{"x":{"field":"t","type":"quantitative","axis":null},"y":{"field":"v","type":"quantitative","axis":null},"text":{"field":"label"}}},
{"data":{"values":[{"t":345,"v":75,"name":"BATAVIA"}]},"mark":{"type":"text","align":"center","baseline":"middle","fontSize":22,"fontWeight":"bold"},
"encoding":{"x":{"field":"t","type":"quantitative","axis":null},"y":{"field":"v","type":"quantitative","axis":null},"text":{"field":"name"}}}
]}
],"spacing":64,"center":true},
{"hconcat":[
{"width":403,"height":363,"resolve":{"axis":{"x":"independent","y":"independent"}},"layer":[
{"data":{"name":"halberd"},"transform":[{"window":[{"op":"min","field":"v","as":"lo"},{"op":"max","field":"v","as":"hi"}],"frame":[-1,1],"groupby":["s"],"sort":[{"field":"t"}]}],
"mark":{"type":"area","color":"black","opacity":1},
"encoding":{
"x":{"field":"t","type":"quantitative","scale":{"domain":[0,600],"nice":false},"axis":{"orient":"bottom","values":[0,20,40,60,80,100,120,140,160,180,200,220,240,260,280,300,320,340,360,380,400,420,440,460,480,500,520,540,560,580,600],"labels":false,"tickSize":5,"title":null}},
"y":{"field":"hi","type":"quantitative","scale":{"domain":[0,400],"nice":false},"axis":{"orient":"left","values":[0,10,20,30,40,50,60,70,80,90,100,110,120,130,140,150,160,170,180,190,200,210,220,230,240,250,260,270,280,290,300,310,320,330,340,350,360,370,380,390,400],"labels":false,"tickSize":4,"title":null}},
"y2":{"field":"lo"},
"detail":{"field":"s"}}},
{"data":{"name":"halberd"},"mark":{"type":"line","color":"black","strokeWidth":1.1},
"encoding":{
"x":{"field":"t","type":"quantitative","axis":{"orient":"bottom","values":[0,200,400,600],"ticks":false,"tickSize":0,"domain":false,"labelFontSize":12,"labelFontWeight":"bold","labelPadding":7,"title":"Time (seconds)","titleFontSize":21,"titleFontWeight":"bold","titlePadding":30}},
"y":{"field":"v","type":"quantitative","axis":{"orient":"left","values":[0,100,200,300,400],"ticks":false,"tickSize":0,"domain":false,"labelFontSize":12,"labelFontWeight":"bold","labelPadding":9,"title":"Mix resistance","titleFontSize":24,"titleFontWeight":"bold","titlePadding":7}},
"detail":{"field":"s"}}},
{"data":{"values":[{"t":194,"lo":176,"hi":228},{"t":224,"lo":194,"hi":258},{"t":241,"lo":165,"hi":201},{"t":258,"lo":210,"hi":258},{"t":270,"lo":206,"hi":250},{"t":290,"lo":194,"hi":246},{"t":598,"lo":96,"hi":112}]},
"mark":{"type":"rule","color":"black","strokeWidth":1.6},
"encoding":{"x":{"field":"t","type":"quantitative","axis":null},"y":{"field":"lo","type":"quantitative","axis":null},"y2":{"field":"hi"}}},
{"data":{"values":[{"t":600,"v":129,"label":"C\u00a0\u00a010.2%"},{"t":600,"v":106,"label":"H\u00a0\u00a010.8%"}]},"mark":{"type":"text","align":"left","baseline":"middle","dx":8,"fontSize":15,"fontWeight":"bold"},
"encoding":{"x":{"field":"t","type":"quantitative","axis":null},"y":{"field":"v","type":"quantitative","axis":null},"text":{"field":"label"}}},
{"data":{"values":[{"t":335,"v":46,"name":"HALBERD"}]},"mark":{"type":"text","align":"center","baseline":"middle","fontSize":21,"fontWeight":"bold"},
"encoding":{"x":{"field":"t","type":"quantitative","axis":null},"y":{"field":"v","type":"quantitative","axis":null},"text":{"field":"name"}}}
]},
{"width":427,"height":338,
"title":{"text":"\u00a0","orient":"bottom","fontSize":3,"offset":20},
"resolve":{"axis":{"x":"independent","y":"independent"}},
"layer":[
{"data":{"name":"grebe"},"transform":[{"window":[{"op":"min","field":"v","as":"lo"},{"op":"max","field":"v","as":"hi"}],"frame":[-1,1],"groupby":["s"],"sort":[{"field":"t"}]}],
"mark":{"type":"area","color":"black","opacity":1},
"encoding":{
"x":{"field":"t","type":"quantitative","scale":{"domain":[0,600],"nice":false},"axis":{"orient":"bottom","values":[0,20,40,60,80,100,120,140,160,180,200,220,240,260,280,300,320,340,360,380,400,420,440,460,480,500,520,540,560,580,600],"labels":false,"tickSize":4,"domainWidth":1.5,"title":null}},
"y":{"field":"hi","type":"quantitative","scale":{"domain":[0,400],"nice":false},"axis":{"orient":"left","values":[0,10,20,30,40,50,60,70,80,90,100,110,120,130,140,150,160,170,180,190,200,210,220,230,240,250,260,270,280,290,300,310,320,330,340,350,360,370,380,390,400],"labels":false,"tickSize":3,"domainWidth":1.5,"title":null}},
"y2":{"field":"lo"},
"detail":{"field":"s"}}},
{"data":{"name":"grebe"},"mark":{"type":"line","color":"black","strokeWidth":1},
"encoding":{
"x":{"field":"t","type":"quantitative","axis":{"orient":"bottom","values":[0,200,400,600],"ticks":false,"tickSize":0,"domain":false,"labelFontSize":11,"labelFontWeight":"normal","labelPadding":3,"title":"Time (seconds)","titleFontSize":23,"titleFontWeight":"normal","titlePadding":4}},
"y":{"field":"v","type":"quantitative","axis":{"orient":"left","values":[0,100,200,300,400],"ticks":false,"tickSize":0,"domain":false,"labelFontSize":12,"labelFontWeight":"normal","labelPadding":8,"title":"Mix resistance","titleFontSize":24,"titleFontWeight":"normal","titlePadding":10}},
"detail":{"field":"s"}}},
{"data":{"values":[{"t":98,"lo":150,"hi":213},{"t":107,"lo":180,"hi":231},{"t":121,"lo":200,"hi":253},{"t":155,"lo":234,"hi":255},{"t":332,"lo":79,"hi":90},{"t":365,"lo":77,"hi":90},{"t":575,"lo":79,"hi":91}]},
"mark":{"type":"rule","color":"black","strokeWidth":1.3},
"encoding":{"x":{"field":"t","type":"quantitative","axis":null},"y":{"field":"lo","type":"quantitative","axis":null},"y2":{"field":"hi"}}},
{"data":{"values":[{"t":600,"v":124,"label":"H\u00a0\u00a014.8%"},{"t":600,"v":91,"label":"C\u00a0\u00a011.6%"}]},"mark":{"type":"text","align":"left","baseline":"middle","dx":5,"fontSize":15,"fontWeight":"normal"},
"encoding":{"x":{"field":"t","type":"quantitative","axis":null},"y":{"field":"v","type":"quantitative","axis":null},"text":{"field":"label"}}},
{"data":{"values":[{"t":318,"v":40,"name":"GREBE"}]},"mark":{"type":"text","align":"center","baseline":"middle","fontSize":25,"fontWeight":"normal"},
"encoding":{"x":{"field":"t","type":"quantitative","axis":null},"y":{"field":"v","type":"quantitative","axis":null},"text":{"field":"name"}}}
]}
],"spacing":66,"center":true}
],
"spacing":41
}
